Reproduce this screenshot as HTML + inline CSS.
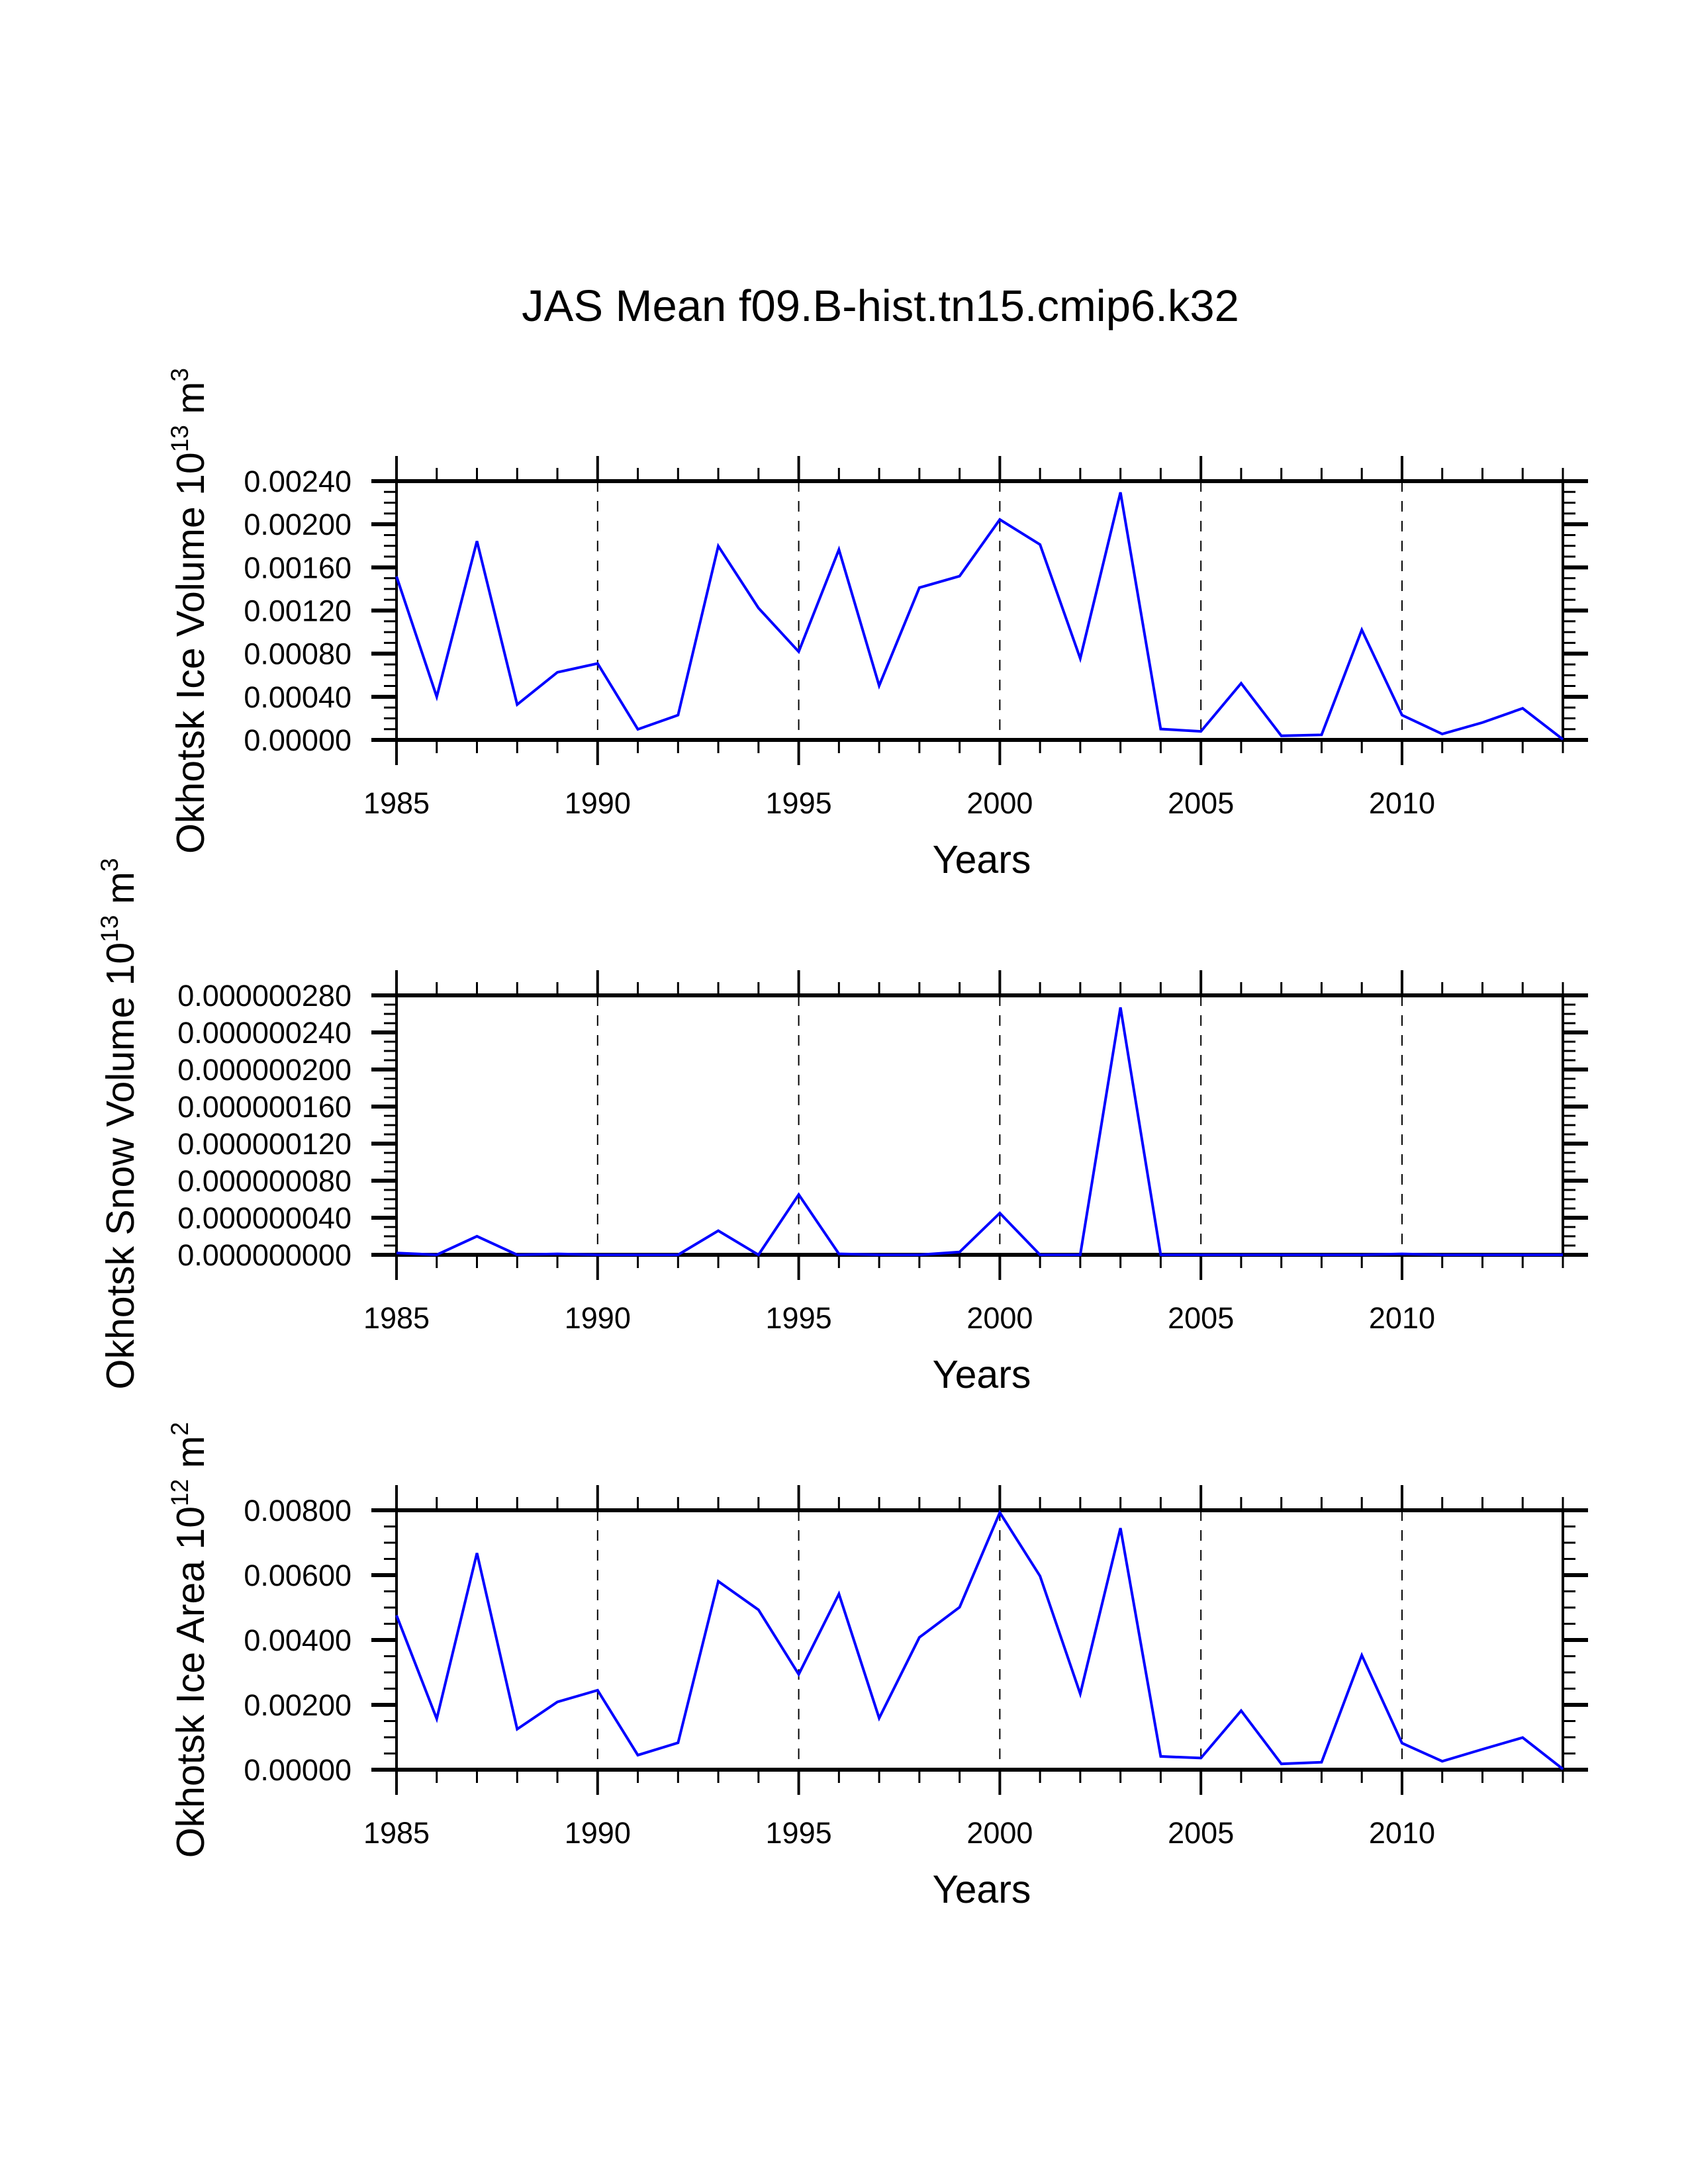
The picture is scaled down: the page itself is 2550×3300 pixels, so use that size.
<!DOCTYPE html>
<html><head><meta charset="utf-8"><style>
html,body{margin:0;padding:0;background:#fff;}
svg{display:block;font-family:"Liberation Sans",Arial,sans-serif;}
</style></head>
<body>
<svg id="chart" width="2550" height="3300" viewBox="0 0 2550 3300" xmlns="http://www.w3.org/2000/svg">
<rect width="2550" height="3300" fill="#fff"/>
<text x="1330" y="485" font-size="67" text-anchor="middle">JAS Mean f09.B-hist.tn15.cmip6.k32</text>
</svg>
<script>
const years = [1985,1986,1987,1988,1989,1990,1991,1992,1993,1994,1995,1996,1997,1998,1999,2000,2001,2002,2003,2004,2005,2006,2007,2008,2009,2010,2011,2012,2013,2014];
const iceVolume = [0.001516,0.000400,0.001844,0.000328,0.000627,0.000709,0.0000985,0.00023,0.001798,0.001223,0.000818,0.001765,0.000503,0.001412,0.001519,0.002044,0.001812,0.000755,0.002296,0.000101,0.000079,0.000525,0.000038,0.000047,0.001021,0.00023,0.000055,0.000161,0.000293,0.000005];
const snowVolume = [2e-9,0,2.0e-8,0,1e-9,0,0,0,2.6e-8,0,6.5e-8,1e-9,0,0,3e-9,4.5e-8,0,0,2.67e-7,0,0,0,0,0,0,1e-9,0,0,0,0];
const iceArea = [0.00476,0.00157,0.00668,0.00125,0.00209,0.00245,0.00045,0.00083,0.00581,0.00493,0.00294,0.00542,0.00159,0.00408,0.00501,0.00793,0.00597,0.00234,0.00745,0.00041,0.00036,0.00182,0.00018,0.00023,0.00353,0.00082,0.00026,0.00063,0.00099,0.00002];
const xTickLabels = [1985,1990,1995,2000,2005,2010];
const yTicks1 = [0,0.0004,0.0008,0.0012,0.0016,0.002,0.0024];
const yTicks2 = [0,4e-8,8e-8,1.2e-7,1.6e-7,2e-7,2.4e-7,2.8e-7];
const yTicks3 = [0,0.002,0.004,0.006,0.008];

const NS="http://www.w3.org/2000/svg";
const svg=document.getElementById('chart');
const X0=599,X1=2361;
function mk(tag,attrs,parent){const e=document.createElementNS(NS,tag);for(const k in attrs)e.setAttribute(k,attrs[k]);(parent||svg).appendChild(e);return e;}

function panel(cfg){
  const g=mk('g',{});
  
  
  const top=cfg.top,bot=cfg.bot;
  const xs=y=>X0+(y-1985)/(2014-1985)*(X1-X0);
  const ys=v=>bot-(v-cfg.ymin)/(cfg.ymax-cfg.ymin)*(bot-top);
  xTickLabels.slice(1).forEach(yr=>{
    const l=mk('line',{x1:xs(yr),x2:xs(yr),y1:top,y2:bot,stroke:'#000','stroke-width':2,'stroke-dasharray':'16,14'},g);
    
    
  });
  for(let yr=1985;yr<=2014;yr++){
    const maj=yr%5===0;const len=maj?38:20;const sw=maj?4:3;
    mk('line',{x1:xs(yr),x2:xs(yr),y1:top,y2:top-len,stroke:'#000','stroke-width':sw},g);
    mk('line',{x1:xs(yr),x2:xs(yr),y1:bot,y2:bot+len,stroke:'#000','stroke-width':sw},g);
  }
  const step=cfg.minor;
  const n=Math.round((cfg.ymax-cfg.ymin)/step);
  for(let i=0;i<=n;i++){
    const v=cfg.ymin+i*step;const maj=i%4===0;const len=maj?38:19;const sw=maj?6:3;
    mk('line',{x1:X0,x2:X0-len,y1:ys(v),y2:ys(v),stroke:'#000','stroke-width':sw},g);
    mk('line',{x1:X1,x2:X1+len,y1:ys(v),y2:ys(v),stroke:'#000','stroke-width':sw},g);
  }
  const f=mk('rect',{x:X0,y:top,width:X1-X0,height:bot-top,fill:'none',stroke:'#000','stroke-width':4},g);
  
  
  mk('line',{x1:X0-38,x2:X1+38,y1:top,y2:top,stroke:'#000','stroke-width':6},g);
  mk('line',{x1:X0-38,x2:X1+38,y1:bot,y2:bot,stroke:'#000','stroke-width':6},g);
  cfg.yticks.forEach(v=>{
    const t=mk('text',{x:531,y:ys(v)+16,'font-size':45,'text-anchor':'end'},g);
    t.textContent=v.toFixed(cfg.dec);
    
    
  });
  xTickLabels.forEach(yr=>{
    const t=mk('text',{x:xs(yr),y:bot+111,'font-size':45,'text-anchor':'middle'},g);
    t.textContent=yr;
    
    
  });
  const xt=mk('text',{x:1483,y:bot+201,'font-size':59,'text-anchor':'middle'},g);
  xt.textContent='Years';
  
  
  const yt=mk('text',{x:0,y:0,'font-size':59,'text-anchor':'middle',transform:'translate('+cfg.tx+','+cfg.ty+') rotate(-90)'},g);
  
  
  const s1=mk('tspan',{},yt);s1.textContent=cfg.title+' 10';
  const s2=mk('tspan',{dy:-24,'font-size':37},yt);s2.textContent=cfg.exp;
  const s3=mk('tspan',{dy:24},yt);s3.textContent=' m';
  const s4=mk('tspan',{dy:-24,'font-size':37},yt);s4.textContent=cfg.pw;
  const pts=years.map((yr,i)=>xs(yr)+','+ys(cfg.data[i])).join(' ');
  const p=mk('polyline',{points:pts,fill:'none',stroke:'#0000ff','stroke-width':4,'stroke-linejoin':'miter'},g);
  
  
}
panel({name:'ice-volume-panel',top:727,bot:1118,ymin:0,ymax:0.0024,minor:0.0001,yticks:yTicks1,dec:5,data:iceVolume,title:'Okhotsk Ice Volume',exp:'13',pw:'3',tx:308,ty:923});
panel({name:'snow-volume-panel',top:1504,bot:1896,ymin:0,ymax:2.8e-7,minor:1e-8,yticks:yTicks2,dec:9,data:snowVolume,title:'Okhotsk Snow Volume',exp:'13',pw:'3',tx:202,ty:1698});
panel({name:'ice-area-panel',top:2282,bot:2674,ymin:0,ymax:0.008,minor:0.0005,yticks:yTicks3,dec:5,data:iceArea,title:'Okhotsk Ice Area',exp:'12',pw:'2',tx:308,ty:2478});
</script>
</body></html>
